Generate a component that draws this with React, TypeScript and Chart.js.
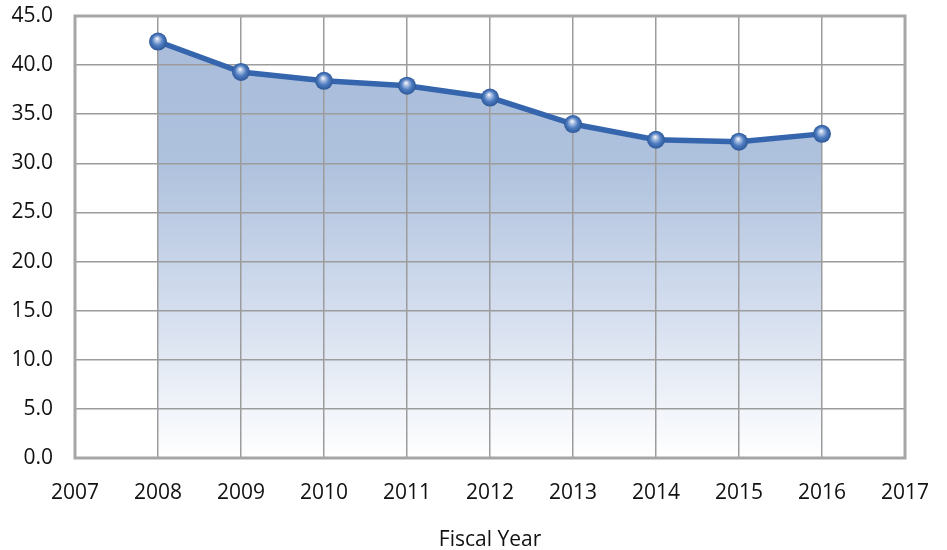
import React, { useEffect, useRef } from "react";
import { Chart, registerables } from "chart.js";

Chart.register(...registerables);

const years = [2008, 2009, 2010, 2011, 2012, 2013, 2014, 2015, 2016];
const values = [42.4, 39.3, 38.4, 37.9, 36.7, 34.0, 32.4, 32.2, 33.0];
const xMin = 2007;
const xMax = 2017;
const yMax = 45;
const yStep = 5;
const xTitle = "Fiscal Year";

const FONT = "'Open Sans', 'Noto Sans', sans-serif";

const framePlugin = {
  id: "frame",
  afterDatasetsDraw(chart: any) {
    const { ctx, chartArea } = chart;
    const meta = chart.getDatasetMeta(0);
    meta.data.forEach((pt: any) => {
      const x = pt.x, y = pt.y, r = 9;
      const g = ctx.createRadialGradient(x - 1, y - 3, 0, x, y, r);
      g.addColorStop(0, "#ffffff");
      g.addColorStop(0.22, "#b7c8e6");
      g.addColorStop(0.6, "#4e7cc0");
      g.addColorStop(1, "#2d5899");
      ctx.save();
      ctx.beginPath();
      ctx.arc(x, y, r, 0, Math.PI * 2);
      ctx.fillStyle = g;
      ctx.fill();
      ctx.restore();
    });
    ctx.save();
    ctx.strokeStyle = "#a6a6a6";
    ctx.lineWidth = 3;
    ctx.strokeRect(chartArea.left, chartArea.top, chartArea.right - chartArea.left, chartArea.bottom - chartArea.top);
    ctx.restore();
  },
};

export default function App() {
  const ref = useRef<HTMLCanvasElement>(null);
  useEffect(() => {
    document.body.style.margin = "0";
    const canvas = ref.current!;
    const chart = new Chart(canvas, {
      type: "line",
      data: {
        datasets: [
          {
            data: years.map((y, i) => ({ x: y, y: values[i] })),
            borderColor: "#3565ad",
            borderWidth: 5.5,
            pointRadius: 0,
            tension: 0,
            fill: "origin",
            backgroundColor: (c: any) => {
              const area = c.chart.chartArea;
              if (!area) return "#a9bedb";
              const g = c.chart.ctx.createLinearGradient(0, area.top, 0, area.bottom);
              g.addColorStop(0, "#a8bcda");
              g.addColorStop(0.33, "#aec1dd");
              g.addColorStop(0.66, "#d3ddee");
              g.addColorStop(1, "#ffffff");
              return g;
            },
          },
        ],
      },
      options: {
        animation: false,
        responsive: false,
        maintainAspectRatio: false,
        layout: { padding: { top: 16, right: 42, left: 0, bottom: 0 } },
        plugins: {
          legend: { display: false },
          tooltip: { enabled: false },
          filler: { drawTime: "beforeDraw" },
        },
        scales: {
          x: {
            type: "linear",
            min: xMin,
            max: xMax,
            ticks: {
              stepSize: 1,
              padding: 22,
              color: "#111",
              font: { family: FONT, size: 21 },
              callback: (v: any) => String(v),
            },
            grid: { color: "#9c9c9c", lineWidth: 1.5, drawTicks: false },
            border: { display: false },
            title: {
              display: true,
              text: xTitle,
              color: "#111",
              font: { family: FONT, size: 21 },
              padding: { top: 0, bottom: -3 },
            },
            afterFit: (s: any) => {
              s.height = 92;
              s.paddingLeft = 0;
              s.paddingRight = 0;
              s.paddingTop = 0;
              s.paddingBottom = 0;
            },
          },
          y: {
            min: 0,
            max: yMax,
            ticks: {
              stepSize: yStep,
              padding: 22,
              color: "#111",
              font: { family: FONT, size: 21 },
              callback: (v: any) => Number(v).toFixed(1),
            },
            grid: { color: "#9c9c9c", lineWidth: 1.5, drawTicks: false },
            border: { display: false },
            afterFit: (s: any) => {
              s.width = 75;
              s.paddingLeft = 0;
              s.paddingRight = 0;
              s.paddingTop = 0;
              s.paddingBottom = 0;
            },
          },
        },
      },
      plugins: [framePlugin],
    } as any);
    return () => chart.destroy();
  }, []);
  return (
    <div style={{ width: 947, height: 550 }}>
      <canvas ref={ref} width={947} height={550} style={{ width: 947, height: 550 }} />
    </div>
  );
}
